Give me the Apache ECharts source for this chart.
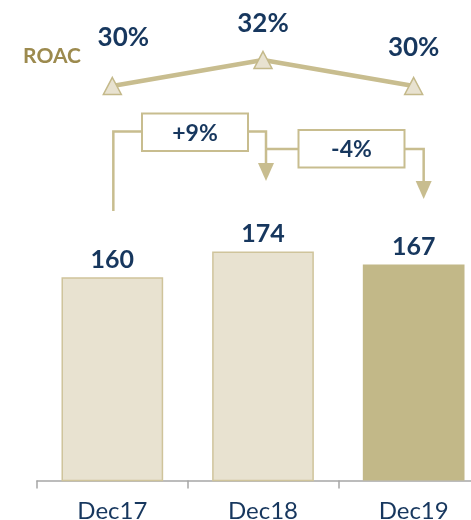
<!DOCTYPE html>
<html>
<head>
<meta charset="utf-8">
<script src="https://cdn.jsdelivr.net/npm/echarts@6/dist/echarts.min.js"></script>
<style>html,body{margin:0;padding:0;background:#fff;}#c{width:471px;height:520px;}</style>
</head>
<body>
<div id="c"></div>
<script>
var categories = ['Dec17', 'Dec18', 'Dec19'];
var capitalValues = [160, 174, 167];
var roacValues = [30, 32, 30];
var roacLabels = ['30%', '32%', '30%'];
var changeLabels = ['+9%', '-4%'];
var roacTitle = 'ROAC';

var NAVY = '#17375E';
var GOLD = '#C8BD8F';
var LIGHT = '#E8E2D0';
var DARK = '#C2B888';
var FONT = 'Lato';

var chart = echarts.init(document.getElementById('c'), null, {renderer: 'canvas'});

var labelOffsets = [[11, -26], [0, -14], [0, -16]];

var option = {
  animation: false,
  grid: [
    {left: 37, width: 452, top: 100, bottom: 39.5, outerBoundsMode: 'none', containLabel: false},
    {left: 37, width: 452, top: 60, height: 26, outerBoundsMode: 'none', containLabel: false}
  ],
  xAxis: [
    {
      type: 'category', gridIndex: 0, data: categories,
      axisLine: {lineStyle: {color: '#A6A6A6', width: 1.5}},
      axisTick: {show: true, length: 8, lineStyle: {color: '#A6A6A6', width: 1.5}},
      axisLabel: {color: NAVY, fontFamily: FONT, fontSize: 24, margin: 19}
    },
    {type: 'category', gridIndex: 1, data: categories, show: false}
  ],
  yAxis: [
    {type: 'value', gridIndex: 0, min: 50, max: 256, show: false, splitLine: {show: false}},
    {type: 'value', gridIndex: 1, min: 30, max: 32, show: false, splitLine: {show: false}}
  ],
  series: [
    {
      type: 'bar', xAxisIndex: 0, yAxisIndex: 0, barWidth: '67.5%',
      data: capitalValues.map(function (v, i) {
        return {
          value: v,
          itemStyle: i === 2 ? {color: DARK, borderColor: DARK, borderWidth: 0}
                             : {color: LIGHT, borderColor: '#CFC49B', borderWidth: 1.5}
        };
      }),
      label: {show: true, position: 'top', distance: 5, color: NAVY, fontFamily: FONT,
              fontWeight: 'bold', fontSize: 25}
    },
    {
      type: 'line', xAxisIndex: 1, yAxisIndex: 1,
      data: roacValues.map(function (v, i) {
        return {
          value: v,
          label: {offset: labelOffsets[i], formatter: roacLabels[i]}
        };
      }),
      lineStyle: {color: GOLD, width: 4.5},
      symbol: 'triangle', symbolSize: [18, 17],
      itemStyle: {color: LIGHT, borderColor: '#C4B98A', borderWidth: 1.5},
      clip: false,
      z: 5,
      label: {show: true, position: 'top', distance: 0, color: NAVY, fontFamily: FONT,
              fontWeight: 'bold', fontSize: 26}
    }
  ]
};
chart.setOption(option);

function px(i) { return chart.convertToPixel({xAxisIndex: 0}, categories[i]); }
var c0 = px(0), c1 = px(1), c2 = px(2);

function box(x, y, w, h, text) {
  return [
    {type: 'rect', shape: {x: x, y: y, width: w, height: h},
     style: {fill: '#fff', stroke: GOLD, lineWidth: 2}, z: 10},
    {type: 'text', x: x + w / 2, y: y + h / 2 + 1,
     style: {text: text, fill: NAVY, font: 'bold 23px ' + FONT, align: 'center', verticalAlign: 'middle'}, z: 11}
  ];
}
function arrowHead(x, tipY) {
  return {type: 'polygon', shape: {points: [[x - 8, tipY - 18], [x + 8, tipY - 18], [x, tipY]]},
          style: {fill: GOLD}, z: 10};
}
var a1x = c1 + 3, a2x = c2 + 10;
var els = [
  {type: 'text', x: 52, y: 56, style: {text: roacTitle, fill: '#9C8A4E', font: 'bold 21px ' + FONT,
   align: 'center', verticalAlign: 'middle'}},
  {type: 'polyline', shape: {points: [[c0 + 1, 211], [c0 + 1, 131.5], [142, 131.5]]},
   style: {stroke: GOLD, lineWidth: 2.5, fill: null}, z: 9},
  {type: 'polyline', shape: {points: [[247, 131.5], [a1x, 131.5], [a1x, 165]]},
   style: {stroke: GOLD, lineWidth: 2.5, fill: null}, z: 9},
  arrowHead(a1x, 181),
  {type: 'polyline', shape: {points: [[a1x, 149], [299, 149]]},
   style: {stroke: GOLD, lineWidth: 2.5, fill: null}, z: 9},
  {type: 'polyline', shape: {points: [[404, 149], [a2x, 149], [a2x, 183]]},
   style: {stroke: GOLD, lineWidth: 2.5, fill: null}, z: 9},
  arrowHead(a2x, 199)
].concat(box(142, 113.5, 106, 37.5, changeLabels[0]))
 .concat(box(298.5, 130, 106, 37.5, changeLabels[1]));

chart.setOption({graphic: {elements: els}});
</script>
</body>
</html>
